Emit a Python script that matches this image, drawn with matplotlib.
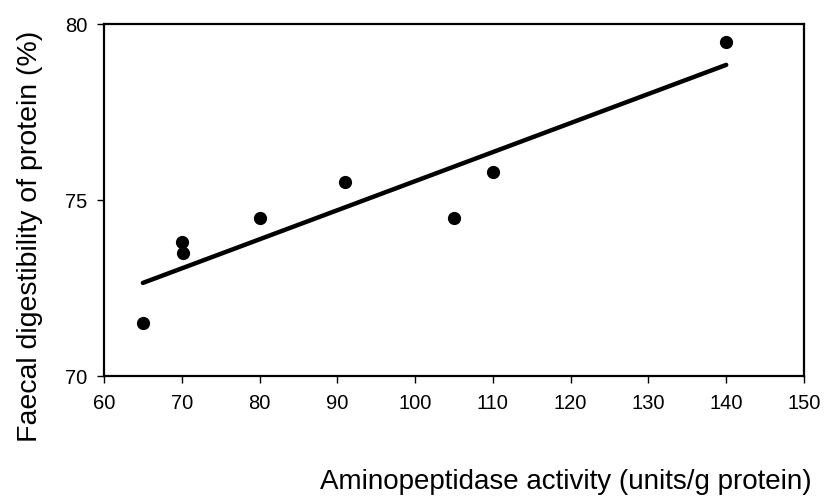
import numpy as np
import matplotlib.pyplot as plt

plt.rcParams['font.family'] = ['Liberation Sans', 'DejaVu Sans']

activity = [65, 70, 70.2, 80, 91, 105, 110, 140]
digestibility = [71.5, 73.8, 73.5, 74.5, 75.5, 74.5, 75.8, 79.5]

# least-squares trend line over the measured range
slope, intercept = np.polyfit(activity, digestibility, 1)
x_fit = np.array([min(activity), max(activity)])
y_fit = slope * x_fit + intercept

fig = plt.figure(figsize=(8.24, 4.97), dpi=100)
ax = fig.add_axes([104/824, 1 - 376/497, 700/824, 352/497])

ax.plot(x_fit, y_fit, color='black', linewidth=3.2, solid_capstyle='round')
ax.plot(activity, digestibility, 'o', color='black', markersize=8.5)

ax.set_xlim(60, 150)
ax.set_ylim(70, 80)
ax.set_xticks(range(60, 151, 10))
ax.set_yticks([70, 75, 80])
ax.tick_params(direction='out', length=5, width=1, labelsize=14.5)
ax.tick_params(axis='x', pad=8)
ax.tick_params(axis='y', pad=7)
for s in ax.spines.values():
    s.set_linewidth(1.6)

fig.text(812/824, 1 - 489/497, 'Aminopeptidase activity (units/g protein)',
         ha='right', va='baseline', fontsize=20)
fig.text(30/824, 1 - 236/497, 'Faecal digestibility of protein (%)',
         ha='center', va='center', rotation=90, fontsize=20.5)

fig.savefig('out.png', dpi=100)
